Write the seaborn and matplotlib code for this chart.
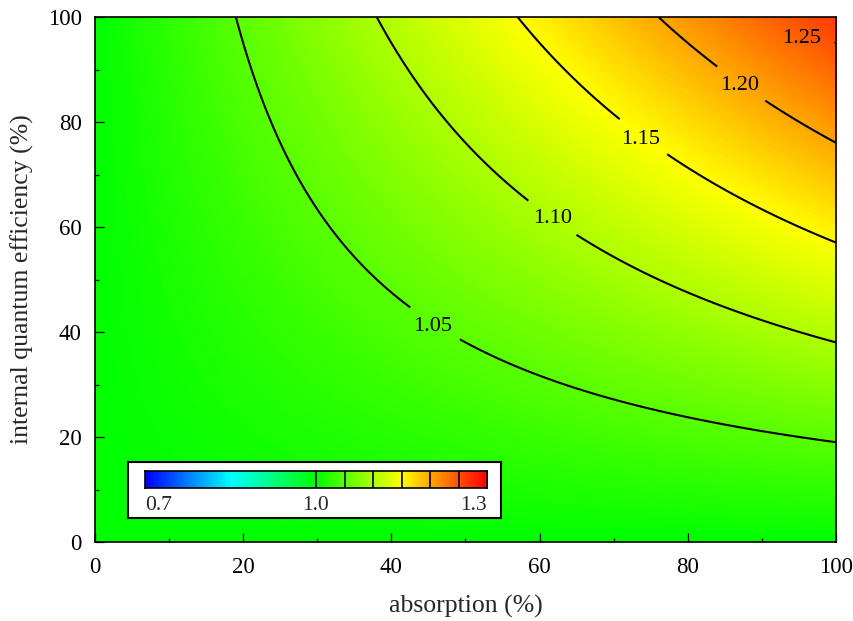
import numpy as np
import matplotlib
matplotlib.use("Agg")
import matplotlib.pyplot as plt
import seaborn as sns
from matplotlib.colors import LinearSegmentedColormap, Normalize

# Enhancement ratio at the corners of the (absorption, IQE) plane
absorption_edges = [0, 100]           # %
iqe_edges = [0, 100]                  # %
corner_ratio = [[1.000, 1.000],       # IQE = 0   : absorption 0, 100
                [1.000, 1.263]]       # IQE = 100 : absorption 0, 100

contour_levels = [1.05, 1.10, 1.15, 1.20, 1.25]
label_positions = [(45.6, 41.0), (61.7, 61.7), (73.7, 76.6), (87.0, 86.9), (95.3, 96.0)]
cbar_range = (0.7, 1.3)
cbar_labels = ["0.7", "1.0", "1.3"]
cbar_steps = [1.00, 1.05, 1.10, 1.15, 1.20, 1.25, 1.30]

sns.set_style("ticks")
plt.rcParams["font.family"] = ["Liberation Serif", "DejaVu Serif"]

# colour scale: blue -> cyan -> green at 1.0 -> yellow -> orange -> red
nodes = [(0.70, (0.0, 0.0, 1.0)),
         (0.85, (0.0, 1.0, 1.0)),
         (1.00, (0.0, 1.0, 0.0)),
         (1.05, (0.35, 1.0, 0.0)),
         (1.10, (0.68, 1.0, 0.0)),
         (1.15, (1.0, 1.0, 0.0)),
         (1.20, (1.0, 0.66, 0.0)),
         (1.25, (1.0, 0.32, 0.0)),
         (1.30, (1.0, 0.0, 0.0))]
lo, hi = cbar_range
cmap = LinearSegmentedColormap.from_list(
    "gain", [((v - lo) / (hi - lo), c) for v, c in nodes])
norm = Normalize(lo, hi)

# bilinear field on a fine grid
a = np.linspace(0, 100, 401)
q = np.linspace(0, 100, 401)
rows = np.array([np.interp(a, absorption_edges, r) for r in corner_ratio])
Z = np.array([np.interp(q, iqe_edges, rows[:, j]) for j in range(len(a))]).T
A, Q = np.meshgrid(a, q)

fig = plt.figure(figsize=(8.54, 6.21), dpi=100)
ax = fig.add_axes([0.1112, 0.1272, 0.8677, 0.8454])
ax.imshow(Z, extent=[0, 100, 0, 100], origin="lower", cmap=cmap, norm=norm,
          aspect="auto", interpolation="bilinear")
cs = ax.contour(A, Q, Z, levels=contour_levels, colors="black", linewidths=1.5)
labels = ax.clabel(cs, fmt="%.2f", fontsize=16, inline=True, inline_spacing=10,
                   manual=label_positions)
# upright labels centred in the gaps
for t, pos in zip(labels, label_positions):
    t.set_rotation(0)
    t.set_position(pos)

ax.set_xlim(0, 100)
ax.set_ylim(0, 100)
ax.set_xticks(np.arange(0, 101, 20))
ax.set_yticks(np.arange(0, 101, 20))
ax.set_xticks(np.arange(10, 100, 20), minor=True)
ax.set_yticks(np.arange(10, 100, 20), minor=True)
ax.tick_params(which="both", direction="in", top=False, right=False,
               width=0.9, colors="black", labelsize=16.5)
ax.tick_params(axis="x", which="major", pad=11)
ax.tick_params(axis="y", which="major", pad=9.5)
ax.tick_params(which="major", length=6.5)
ax.tick_params(which="minor", length=3.1)
for s in ax.spines.values():
    s.set_linewidth(1.2)
    s.set_color("black")
ax.set_xlabel("absorption (%)", fontsize=18.5, labelpad=12)
ax.set_ylabel("internal quantum efficiency (%)", fontsize=18.5, labelpad=10)

# colour scale legend box inside the plot
box = fig.add_axes([0.1499, 0.1659, 0.4368, 0.0902])
box.set_facecolor("white")
box.set_xticks([])
box.set_yticks([])
for s in box.spines.values():
    s.set_linewidth(1.5)
    s.set_color("black")

bar = fig.add_axes([0.1698, 0.2142, 0.4005, 0.0274])
grad = np.linspace(lo, hi, 600)[None, :]
bar.imshow(grad, extent=[lo, hi, 0, 1], cmap=cmap, norm=norm, aspect="auto")
for v in cbar_steps[:-1]:
    bar.axvline(v, color="black", lw=1.2)
bar.set_xlim(lo, hi)
bar.set_ylim(0, 1)
bar.set_xticks([])
bar.set_yticks([])
for s in bar.spines.values():
    s.set_linewidth(1.2)
    s.set_color("black")

tick_vals = [lo, 1.0, hi]
aligns = ["left", "center", "right"]
for v, txt, ha in zip(tick_vals, cbar_labels, aligns):
    bar.text(v, -0.45, txt, ha=ha, va="top", fontsize=15.5,
             transform=bar.get_xaxis_transform())

fig.savefig("out.png", dpi=100)
